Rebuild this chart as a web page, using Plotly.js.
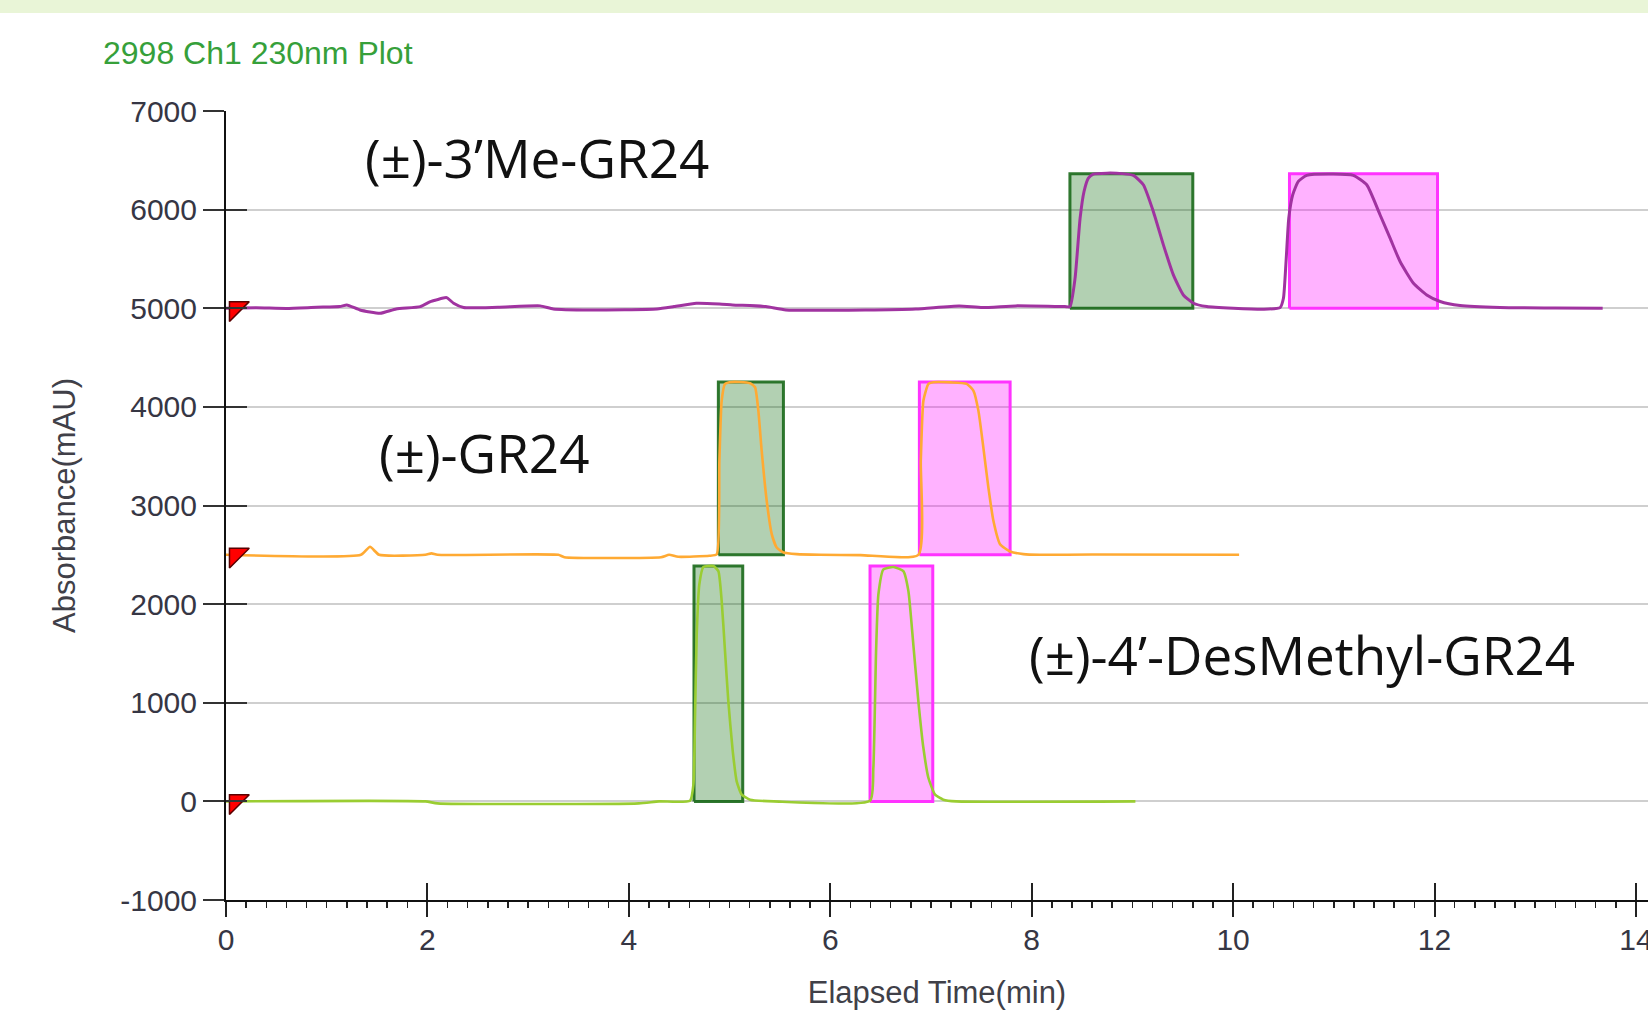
<!DOCTYPE html>
<html>
<head>
<meta charset="utf-8">
<script src="https://cdn.plot.ly/plotly-3.0.1.min.js"></script>
<style>
  html, body { margin: 0; padding: 0; background: #ffffff; }
  #band { width: 1648px; height: 13px; background: #e9f5d7; }
  #chart { width: 1648px; height: 997px; }
</style>
</head>
<body>
<div id="band"></div>
<div id="chart"></div>
<script>
// ---------- data ----------
// (±)-3'Me-GR24 trace (baseline offset 5000 mAU)
const timeMe = [0.00,0.30,0.60,0.90,1.13,1.20,1.33,1.53,1.69,1.93,2.03,2.09,2.19,2.26,2.36,2.70,3.12,3.25,3.62,4.28,4.45,4.67,4.90,5.03,5.36,5.56,6.35,6.85,7.28,7.51,7.84,8.33,8.381,8.431,8.481,8.520,8.563,8.613,8.746,8.90,9.010,9.109,9.208,9.308,9.407,9.506,9.606,9.739,10.003,10.30,10.467,10.50,10.526,10.553,10.592,10.648,10.731,10.996,11.194,11.327,11.459,11.559,11.658,11.791,11.923,12.056,12.254,12.651,13.20,13.67];
const absMe  = [5000,5005,4998,5010,5017,5034,4983,4949,4993,5017,5068,5085,5108,5051,5007,5010,5024,4993,4983,4993,5017,5051,5044,5034,5017,4983,4983,4993,5024,5007,5024,5017,5017,5305,5914,6184,6320,6360,6370,6365,6347,6252,5981,5643,5338,5135,5051,5017,5000,4990,5007,5101,5474,5914,6150,6286,6347,6360,6347,6252,5948,5711,5474,5254,5135,5068,5027,5007,5003,5000];

// (±)-GR24 trace (baseline offset 2500 mAU)
const timeGR = [0.00,1.34,1.43,1.52,1.98,2.04,2.10,3.30,3.36,4.32,4.40,4.49,4.80,4.873,4.899,4.922,4.955,4.999,5.10,5.204,5.253,5.286,5.319,5.369,5.419,5.468,5.535,5.667,5.90,6.30,6.875,6.899,6.925,6.975,7.025,7.20,7.355,7.421,7.471,7.520,7.570,7.620,7.686,7.786,7.918,8.08,8.60,10.06];
const absGR  = [2500,2500,2581,2500,2500,2515,2500,2500,2476,2476,2500,2480,2490,2506,3454,4063,4233,4250,4252,4240,4199,3962,3556,3048,2710,2574,2524,2507,2500,2497,2500,3454,4063,4233,4250,4248,4233,4165,3962,3590,3184,2845,2608,2534,2507,2500,2503,2500];

// (±)-4'-DesMethyl-GR24 trace (baseline 0 mAU)
const timeDes = [0.00,1.98,2.10,4.10,4.30,4.608,4.641,4.657,4.674,4.700,4.740,4.839,4.889,4.922,4.955,4.988,5.032,5.071,5.121,5.204,5.44,6.395,6.428,6.455,6.478,6.528,6.627,6.726,6.776,6.825,6.875,6.925,6.975,7.041,7.123,7.25,9.03];
const absDes  = [0,0,-20,-20,0,7,169,846,1692,2200,2376,2386,2335,2030,1523,1015,508,203,68,17,0,7,338,1523,2098,2352,2376,2335,2132,1590,1015,541,237,68,17,0,0];

// fraction windows (first = green, second = magenta), per trace
const winStartFirst  = [8.38, 4.889, 4.647];
const winEndFirst    = [9.60, 5.535, 5.131];
const winStartSecond = [10.56, 6.885, 6.395];
const winEndSecond   = [12.03, 7.786, 7.018];
const winBase        = [5000, 2500, 0];
const winTop         = [6365, 4252, 2386];

// start markers (red flags on the y axis)
const flagTime  = [0.10, 0.10, 0.10];
const flagLevel = [5000, 2500, 0];

// compound labels
const labelText = ['(±)-3’Me-GR24', '(±)-GR24', '(±)-4’-DesMethyl-GR24'];
const labelTime = [1.36, 1.50, 7.95];
const labelAbs  = [6530, 3540, 1490];

// ticks
const yTickVals = [-1000,0,1000,2000,3000,4000,5000,6000,7000];
const yTickText = ['-1000','0','1000','2000','3000','4000','5000','6000','7000'];
const xTickVals = [0,2,4,6,8,10,12,14];
const xTickText = ['0','2','4','6','8','10','12','14'];

// ---------- styles ----------
const lineColors = ['#a033a0', '#ffaa33', '#9acd32'];
const lineWidths = [3, 2.6, 2.6];
const xRange = [0, 14.12];
const yRange = [-1000, 7000];
const tickFont = {family: 'Liberation Sans, Arial, sans-serif', size: 30, color: '#363644'};

const traces = [];
function box(x0, x1, b, t, fill, line) {
  return {
    type: 'scatter', mode: 'lines', x: [x0, x1, x1, x0, x0], y: [b, b, t, t, b],
    fill: 'toself', fillcolor: fill, line: {color: line, width: 3},
    hoverinfo: 'skip', showlegend: false
  };
}
for (let i = 0; i < 3; i++) {
  traces.push(box(winStartFirst[i], winEndFirst[i], winBase[i], winTop[i], 'rgba(0,100,0,0.3)', 'rgba(25,105,25,0.9)'));
  traces.push(box(winStartSecond[i], winEndSecond[i], winBase[i], winTop[i], 'rgba(255,0,255,0.3)', '#ff33ff'));
}
const series = [[timeMe, absMe], [timeGR, absGR], [timeDes, absDes]];
series.forEach((s, i) => {
  traces.push({type: 'scatter', mode: 'lines', x: s[0], y: s[1],
    line: {color: lineColors[i], width: lineWidths[i], shape: 'spline', smoothing: 0.5},
    showlegend: false});
});
traces.push({type: 'scatter', mode: 'markers', x: flagTime, y: flagLevel, xaxis: 'x2', yaxis: 'y2',
  marker: {symbol: 'triangle-nw', size: 22, color: '#ff0000', line: {color: '#5a0000', width: 1.5}},
  showlegend: false, cliponaxis: false});

const annotations = labelText.map((t, i) => ({
  text: t, x: labelTime[i], y: labelAbs[i], xref: 'x', yref: 'y', xanchor: 'left', yanchor: 'middle',
  showarrow: false, font: {family: 'Open Sans, sans-serif', size: 53, color: '#111111'}
}));

const layout = {
  width: 1648, height: 997,
  margin: {l: 226, r: 0, t: 98, b: 110},
  paper_bgcolor: '#ffffff', plot_bgcolor: '#ffffff',
  showlegend: false,
  title: {text: '2998 Ch1 230nm Plot', x: 103/1648, xref: 'container', xanchor: 'left',
    y: 1 - 40/997, yref: 'container', yanchor: 'middle',
    font: {family: 'Liberation Sans, Arial, sans-serif', size: 32, color: '#36a03a'}},
  xaxis: {range: xRange, tickvals: xTickVals, ticktext: xTickText, ticks: 'outside', ticklen: 15,
    tickwidth: 2, tickcolor: '#222', showline: true, linecolor: '#111', linewidth: 2,
    showgrid: false, zeroline: false, tickfont: tickFont, ticklabeloverflow: 'allow',
    ticklabelstandoff: -3,
    minor: {dtick: 0.2, ticks: 'outside', ticklen: 6, tickwidth: 1.5, tickcolor: '#222', showgrid: false},
    title: {text: 'Elapsed Time(min)', standoff: 34,
      font: {family: 'Liberation Sans, Arial, sans-serif', size: 31, color: '#404048'}}},
  yaxis: {range: yRange, tickvals: yTickVals, ticktext: yTickText, ticks: 'outside', ticklen: 21,
    tickwidth: 2, tickcolor: '#333', showline: true, linecolor: '#111', linewidth: 2,
    showgrid: true, gridcolor: '#cfcfcf', gridwidth: 2, zeroline: false, tickfont: tickFont,
    title: {text: 'Absorbance(mAU)', standoff: 35,
      font: {family: 'Liberation Sans, Arial, sans-serif', size: 31, color: '#404048'}}},
  xaxis2: {range: xRange, overlaying: 'x', anchor: 'y', side: 'bottom', tickvals: xTickVals,
    ticks: 'inside', ticklen: 17, tickwidth: 2, tickcolor: '#222', showticklabels: false,
    showgrid: false, zeroline: false, showline: false},
  yaxis2: {range: yRange, overlaying: 'y', anchor: 'x', side: 'left', tickvals: yTickVals,
    ticks: 'inside', ticklen: 21, tickwidth: 2, tickcolor: '#333', showticklabels: false,
    showgrid: false, zeroline: false, showline: false},
  annotations: annotations
};

Plotly.newPlot('chart', traces, layout, {displayModeBar: false, staticPlot: true});
</script>
</body>
</html>
